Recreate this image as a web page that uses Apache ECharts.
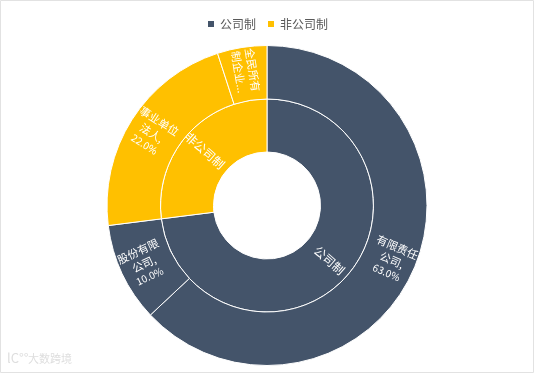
<!DOCTYPE html>
<html>
<head>
<meta charset="utf-8">
<style>
html, body { margin: 0; padding: 0; background: #fff; }
#chart { width: 534px; height: 373px; }
</style>
<script src="https://cdn.jsdelivr.net/npm/echarts@6/dist/echarts.min.js"></script>
</head>
<body>
<div id="chart"></div>
<script>
const groupNames = ['公司制', '非公司制'];
const groupValues = [73, 27];
const groupColors = ['#44546A', '#FFC000'];

const typeNames = ['有限责任公司', '股份有限公司', '事业单位法人', '全民所有制企业'];
const typeLabels = [
    '{n|有限责任}\n{n|公司,}\n{p|63.0%}',
    '{n|股份有限}\n{n|公司,}\n{p|10.0%}',
    '{n|事业单位}\n{n|法人,}\n{p|22.0%}',
    '{n|全民所有}\n{n|制企业...}'
];
const typeValues = [63, 10, 22, 5];
const typeGroup = [0, 0, 1, 1];

const fontName = '"Noto Sans CJK SC", "Noto Sans", sans-serif';

const myChart = echarts.init(document.getElementById('chart'), null, { renderer: 'canvas' });

const option = {
    backgroundColor: '#fff',
    animation: false,
    legend: {
        top: 13,
        left: 'center',
        data: groupNames,
        icon: 'rect',
        itemWidth: 8,
        itemHeight: 8,
        itemGap: 10,
        textStyle: { fontSize: 12, color: '#595959', fontFamily: fontName }
    },
    graphic: [
        {
            type: 'rect',
            shape: { x: 0.5, y: 0.5, width: 533, height: 372 },
            style: { fill: 'none', stroke: '#e2e2e2', lineWidth: 1 }
        },
        {
            type: 'text',
            left: 7,
            top: 352,
            style: { text: 'lC°°', fontSize: 13, fill: '#dedede', fontFamily: fontName }
        },
        {
            type: 'text',
            left: 28,
            top: 353,
            style: { text: '大数跨境', fontSize: 11, fill: '#dedede', fontFamily: fontName }
        }
    ],
    series: [
        {
            type: 'pie',
            center: [267, 205.5],
            radius: [53.5, 106.5],
            startAngle: 90,
            clockwise: true,
            avoidLabelOverlap: false,
            itemStyle: { borderColor: '#fff', borderWidth: 1 },
            label: {
                position: 'inside',
                rotate: 'radial',
                color: '#fff',
                fontSize: 12,
                fontFamily: fontName,
                formatter: '{b}'
            },
            labelLine: { show: false },
            emphasis: { disabled: true },
            data: groupNames.map((name, i) => ({
                name: name,
                value: groupValues[i],
                itemStyle: { color: groupColors[i] }
            }))
        },
        {
            type: 'pie',
            center: [267, 205.5],
            radius: [106.5, 160],
            startAngle: 90,
            clockwise: true,
            avoidLabelOverlap: false,
            itemStyle: { borderColor: '#fff', borderWidth: 1 },
            label: {
                position: 'inside',
                rotate: 'radial',
                color: '#fff',
                fontFamily: fontName,
                rich: {
                    n: { fontSize: 11, lineHeight: 14, color: '#fff', fontFamily: fontName },
                    p: { fontSize: 10, lineHeight: 13, color: '#fff', fontFamily: fontName }
                }
            },
            labelLine: { show: false },
            emphasis: { disabled: true },
            data: typeNames.map((name, i) => ({
                name: name,
                value: typeValues[i],
                itemStyle: { color: groupColors[typeGroup[i]] },
                label: { formatter: typeLabels[i] }
            }))
        }
    ]
};

myChart.setOption(option);
</script>
</body>
</html>
